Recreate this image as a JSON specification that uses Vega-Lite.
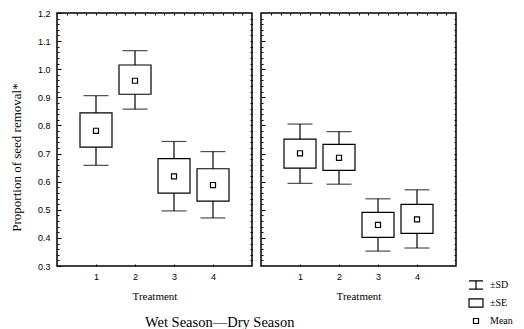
{
  "$schema": "https://vega.github.io/schema/vega-lite/v6.json",
  "padding": {"left": 9, "top": 8, "right": 0, "bottom": 0},
  "bounds": "flush",
  "spacing": 9,
  "config": {
    "view": {"stroke": "black", "strokeWidth": 1.5},
    "axis": {"domain": false, "grid": false, "tickColor": "black", "labelColor": "black", "titleColor": "black", "labelFont": "Liberation Sans", "labelFontSize": 9, "titleFont": "Liberation Serif", "titleFontSize": 11, "titleFontWeight": "normal"},
    "legend": {"labelFont": "Liberation Serif", "labelFontSize": 10, "labelColor": "black"}
  },
  "datasets": {
    "stats": [
      {"season": "Wet", "treatment": 1, "sd_lo": 0.658, "se_lo": 0.723, "mean": 0.781, "se_hi": 0.845, "sd_hi": 0.906},
      {"season": "Wet", "treatment": 2, "sd_lo": 0.858, "se_lo": 0.911, "mean": 0.959, "se_hi": 1.015, "sd_hi": 1.066},
      {"season": "Wet", "treatment": 3, "sd_lo": 0.496, "se_lo": 0.559, "mean": 0.619, "se_hi": 0.682, "sd_hi": 0.743},
      {"season": "Wet", "treatment": 4, "sd_lo": 0.471, "se_lo": 0.531, "mean": 0.588, "se_hi": 0.646, "sd_hi": 0.707},
      {"season": "Dry", "treatment": 1, "sd_lo": 0.594, "se_lo": 0.648, "mean": 0.701, "se_hi": 0.751, "sd_hi": 0.805},
      {"season": "Dry", "treatment": 2, "sd_lo": 0.591, "se_lo": 0.640, "mean": 0.685, "se_hi": 0.733, "sd_hi": 0.778},
      {"season": "Dry", "treatment": 3, "sd_lo": 0.353, "se_lo": 0.402, "mean": 0.446, "se_hi": 0.491, "sd_hi": 0.539},
      {"season": "Dry", "treatment": 4, "sd_lo": 0.364, "se_lo": 0.416, "mean": 0.466, "se_hi": 0.519, "sd_hi": 0.571}
    ]
  },
  "hconcat": [
    {
      "width": 195,
      "height": 253,
      "data": {"name": "stats"},
      "transform": [{"filter": "datum.season === 'Wet'"}],
      "title": {"text": "Wet Season\u2014Dry Season", "orient": "bottom", "anchor": "start", "frame": "group", "dx": 88, "offset": 15, "font": "Liberation Serif", "fontSize": 14.5, "fontWeight": "normal", "color": "black"},
      "resolve": {"axis": {"x": "independent", "y": "independent"}},
      "layer": [
        {
          "mark": {"type": "rule", "color": "black", "strokeWidth": 1.2},
          "encoding": {
            "x": {"field": "treatment", "type": "quantitative", "scale": {"domain": [0, 5], "padding": 0, "nice": false, "zero": false}, "axis": {"orient": "bottom", "values": [1, 2, 3, 4], "tickSize": -2, "labelPadding": 8, "title": "Treatment", "titlePadding": 9}},
            "y": {"field": "sd_lo", "type": "quantitative", "scale": {"domain": [0.3, 1.2], "nice": false, "zero": false, "padding": 0},
              "axis": {"orient": "left", "title": "Proportion of seed removal*", "titlePadding": 14, "titleFontSize": 13, "titleY": 144, "titleAlign": "center",
                "values": [0.3,0.32,0.34,0.36,0.38,0.4,0.42,0.44,0.46,0.48,0.5,0.52,0.54,0.56,0.58,0.6,0.62,0.64,0.66,0.68,0.7,0.72,0.74,0.76,0.78,0.8,0.82,0.84,0.86,0.88,0.9,0.92,0.94,0.96,0.98,1.0,1.02,1.04,1.06,1.08,1.1,1.12,1.14,1.16,1.18,1.2],
                "labelExpr": "abs(datum.value*10 - round(datum.value*10)) < 0.001 ? format(datum.value, '.1f') : ''",
                "tickSize": {"condition": {"test": "abs(datum.value*10 - round(datum.value*10)) < 0.001", "value": -4}, "value": -2},
                "labelPadding": 11}},
            "y2": {"field": "sd_hi"}
          }
        },
        {
          "mark": {"type": "tick", "orient": "horizontal", "size": 25, "thickness": 1.2, "color": "black"},
          "encoding": {
            "x": {"field": "treatment", "type": "quantitative", "axis": {"orient": "top", "values": [0.25,0.5,0.75,1,1.25,1.5,1.75,2,2.25,2.5,2.75,3,3.25,3.5,3.75,4,4.25,4.5,4.75], "tickSize": -2, "labels": false, "title": null}},
            "y": {"field": "sd_hi", "type": "quantitative", "axis": {"orient": "right", "values": [0.32,0.34,0.36,0.38,0.4,0.42,0.44,0.46,0.48,0.5,0.52,0.54,0.56,0.58,0.6,0.62,0.64,0.66,0.68,0.7,0.72,0.74,0.76,0.78,0.8,0.82,0.84,0.86,0.88,0.9,0.92,0.94,0.96,0.98,1.0,1.02,1.04,1.06,1.08,1.1,1.12,1.14,1.16,1.18], "tickSize": -2, "labels": false, "title": null}}
          }
        },
        {
          "mark": {"type": "tick", "orient": "horizontal", "size": 25, "thickness": 1.2, "color": "black"},
          "encoding": {
            "x": {"field": "treatment", "type": "quantitative", "axis": null},
            "y": {"field": "sd_lo", "type": "quantitative", "axis": null}
          }
        },
        {
          "mark": {"type": "bar", "size": 32, "fill": "white", "stroke": "black", "strokeWidth": 1.2},
          "encoding": {
            "x": {"field": "treatment", "type": "quantitative", "axis": null},
            "y": {"field": "se_lo", "type": "quantitative", "axis": null},
            "y2": {"field": "se_hi"}
          }
        },
        {
          "mark": {"type": "point", "filled": false, "stroke": "black", "strokeWidth": 1.2, "size": 196, "opacity": 1},
          "encoding": {
            "x": {"field": "treatment", "type": "quantitative", "axis": null},
            "y": {"field": "mean", "type": "quantitative", "axis": null},
            "shape": {"datum": "Mean", "scale": {"domain": ["\u00b1SD", "\u00b1SE", "Mean"], "range": ["M-1,-0.6H1M0,-0.6V0.6M-1,0.6H1", "M-1,-0.6H1V0.6H-1Z", "M-0.36,-0.36H0.36V0.36H-0.36Z"]},
              "legend": {"title": null, "orient": "none", "legendX": 411, "legendY": 264, "symbolSize": 196, "symbolStrokeColor": "black", "symbolFillColor": "white", "symbolStrokeWidth": 1.2, "symbolOpacity": 1, "labelOffset": 6, "rowPadding": 3,
                "encode": {"symbols": {"update": {"stroke": {"value": "black"}, "strokeWidth": {"value": 1.2}, "fill": {"value": "white"}, "opacity": {"value": 1}, "size": {"value": 196}}}}}}
          }
        }
      ]
    },
    {
      "width": 195,
      "height": 253,
      "data": {"name": "stats"},
      "transform": [{"filter": "datum.season === 'Dry'"}],
      "resolve": {"axis": {"x": "independent", "y": "independent"}},
      "layer": [
        {
          "mark": {"type": "rule", "color": "black", "strokeWidth": 1.2},
          "encoding": {
            "x": {"field": "treatment", "type": "quantitative", "scale": {"domain": [0, 5], "padding": 0, "nice": false, "zero": false}, "axis": {"orient": "bottom", "values": [1, 2, 3, 4], "tickSize": -2, "labelPadding": 8, "title": "Treatment", "titlePadding": 9}},
            "y": {"field": "sd_lo", "type": "quantitative", "scale": {"domain": [0.3, 1.2], "nice": false, "zero": false, "padding": 0},
              "axis": {"orient": "left", "title": null, "labels": false,
                "values": [0.32,0.34,0.36,0.38,0.4,0.42,0.44,0.46,0.48,0.5,0.52,0.54,0.56,0.58,0.6,0.62,0.64,0.66,0.68,0.7,0.72,0.74,0.76,0.78,0.8,0.82,0.84,0.86,0.88,0.9,0.92,0.94,0.96,0.98,1.0,1.02,1.04,1.06,1.08,1.1,1.12,1.14,1.16,1.18],
                "tickSize": {"condition": {"test": "abs(datum.value*10 - round(datum.value*10)) < 0.001", "value": -4}, "value": -2}}},
            "y2": {"field": "sd_hi"}
          }
        },
        {
          "mark": {"type": "tick", "orient": "horizontal", "size": 25, "thickness": 1.2, "color": "black"},
          "encoding": {
            "x": {"field": "treatment", "type": "quantitative", "axis": {"orient": "top", "values": [0.25,0.5,0.75,1,1.25,1.5,1.75,2,2.25,2.5,2.75,3,3.25,3.5,3.75,4,4.25,4.5,4.75], "tickSize": -2, "labels": false, "title": null}},
            "y": {"field": "sd_hi", "type": "quantitative", "axis": {"orient": "right", "values": [0.32,0.34,0.36,0.38,0.4,0.42,0.44,0.46,0.48,0.5,0.52,0.54,0.56,0.58,0.6,0.62,0.64,0.66,0.68,0.7,0.72,0.74,0.76,0.78,0.8,0.82,0.84,0.86,0.88,0.9,0.92,0.94,0.96,0.98,1.0,1.02,1.04,1.06,1.08,1.1,1.12,1.14,1.16,1.18], "tickSize": -2, "labels": false, "title": null}}
          }
        },
        {
          "mark": {"type": "tick", "orient": "horizontal", "size": 25, "thickness": 1.2, "color": "black"},
          "encoding": {
            "x": {"field": "treatment", "type": "quantitative", "axis": null},
            "y": {"field": "sd_lo", "type": "quantitative", "axis": null}
          }
        },
        {
          "mark": {"type": "bar", "size": 32, "fill": "white", "stroke": "black", "strokeWidth": 1.2},
          "encoding": {
            "x": {"field": "treatment", "type": "quantitative", "axis": null},
            "y": {"field": "se_lo", "type": "quantitative", "axis": null},
            "y2": {"field": "se_hi"}
          }
        },
        {
          "mark": {"type": "point", "filled": false, "stroke": "black", "strokeWidth": 1.2, "size": 196, "opacity": 1},
          "encoding": {
            "x": {"field": "treatment", "type": "quantitative", "axis": null},
            "y": {"field": "mean", "type": "quantitative", "axis": null},
            "shape": {"datum": "Mean", "scale": {"domain": ["\u00b1SD", "\u00b1SE", "Mean"], "range": ["M-1,-0.6H1M0,-0.6V0.6M-1,0.6H1", "M-1,-0.6H1V0.6H-1Z", "M-0.36,-0.36H0.36V0.36H-0.36Z"]},
              "legend": {"title": null, "orient": "none", "legendX": 411, "legendY": 264, "symbolSize": 196, "symbolStrokeColor": "black", "symbolFillColor": "white", "symbolStrokeWidth": 1.2, "symbolOpacity": 1, "labelOffset": 6, "rowPadding": 3,
                "encode": {"symbols": {"update": {"stroke": {"value": "black"}, "strokeWidth": {"value": 1.2}, "fill": {"value": "white"}, "opacity": {"value": 1}, "size": {"value": 196}}}}}}
          }
        }
      ]
    }
  ]
}
